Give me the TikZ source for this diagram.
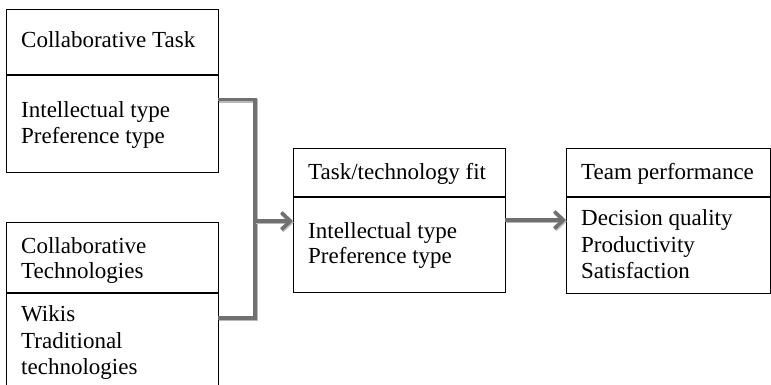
\documentclass[tikz,border=0pt]{standalone}
\usepackage{fontspec}
\setmainfont{Liberation Serif}
\usetikzlibrary{arrows.meta}
\definecolor{conn}{RGB}{112,112,112}
\definecolor{connshadow}{RGB}{185,185,185}
\begin{document}
\begin{tikzpicture}[x=1pt,y=-1pt,
  box/.style={draw=black,line width=1.1pt,rectangle,anchor=north west,inner sep=0pt},
  txt/.style={anchor=base west,inner sep=0pt,font=\fontsize{23}{26}\selectfont},
  conn/.style={draw=conn,line width=3.6pt,
    preaction={draw=connshadow,line width=3.6pt,transform canvas={shift={(0.8pt,-1.4pt)}}}},
  arr/.style={conn,-{Straight Barb[length=9pt,width=17pt,line width=3.6pt]}}]
\useasboundingbox (0,0) rectangle (771,385);
% boxes
\node[box,minimum width=212pt,minimum height=163pt] (b1) at (6,9) {};
\node[box,minimum width=212pt,minimum height=190pt] (b2) at (6,222) {};
\node[box,minimum width=212pt,minimum height=144pt] (b3) at (293,148) {};
\node[box,minimum width=204pt,minimum height=145pt] (b4) at (566,148) {};
% dividers
\coordinate (d1) at (6,75);
\coordinate (d2) at (6,293);
\coordinate (d3) at (293,197);
\coordinate (d4) at (566,197);
\draw[line width=1.1pt] (d1) -- (d1 -| b1.east);
\draw[line width=1.1pt] (d2) -- (d2 -| b2.east);
\draw[line width=1.1pt] (d3) -- (d3 -| b3.east);
\draw[line width=1.1pt] (d4) -- (d4 -| b4.east);
% texts
\node[txt] (t1) at (21,48) {Collaborative Task};
\node[txt] (t1a) at (21,118) {Intellectual type};
\node[txt] (t1b) at (21,143) {Preference type};
\node[txt] (t2) at (21,253) {Collaborative};
\node[txt] (t2b) at (21,278) {Technologies};
\node[txt] (t2c) at (21,321) {Wikis};
\node[txt] (t2d) at (21,348) {Traditional};
\node[txt] (t2e) at (21,374) {technologies};
\node[txt] (t3) at (308,179) {Task/technology fit};
\node[txt] (t3a) at (308,238) {Intellectual type};
\node[txt] (t3b) at (308,263) {Preference type};
\node[txt] (t4) at (581,179) {Team performance};
\node[txt] (t4a) at (581,225) {Decision quality};
\node[txt] (t4b) at (581,252) {Productivity};
\node[txt] (t4c) at (581,278) {Satisfaction};
% connectors
\coordinate (c1) at (218,99.5);
\coordinate (c2) at (218,318);
\coordinate (j) at (255,221);
\coordinate (e3) at (505,220);
\draw[conn] (c1) -| (j) |- (c2);
\draw[arr] (j) -- (j -| b3.west);
\draw[arr] (e3) -- (e3 -| b4.west);
\end{tikzpicture}
\end{document}
